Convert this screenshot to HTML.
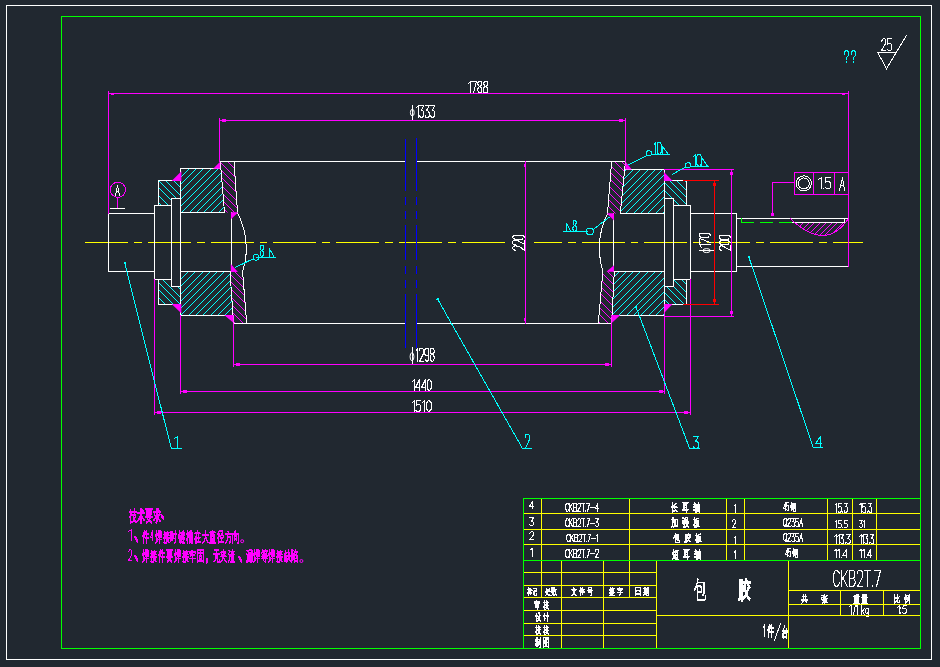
<!DOCTYPE html>
<html><head><meta charset="utf-8"><title>CAD</title>
<style>html,body{margin:0;padding:0;background:#212830;overflow:hidden}svg{display:block}
text{font-family:"Liberation Sans",sans-serif}</style></head>
<body><svg width="940" height="667" viewBox="0 0 940 667" shape-rendering="crispEdges" font-family="Liberation Sans, sans-serif">
<rect width="940" height="667" fill="#212830"/>
<defs><clipPath id="c1"><polygon points="180.5,168.5 220.9,168.5 224.5,212.5 180.5,212.5"/></clipPath><clipPath id="c2"><polygon points="180.5,271.5 230,271.5 233.5,315.5 180.5,315.5"/></clipPath><clipPath id="c3"><polygon points="624.5,169.5 664.5,169.5 664.5,213.5 620.3,213.5"/></clipPath><clipPath id="c4"><polygon points="614.3,271.5 664.5,271.5 664.5,315.5 611.7,315.5"/></clipPath><clipPath id="c5"><polygon points="158.5,180.5 180.5,180.5 180.5,198.5 171.5,198.5 171.5,205.5 158.5,205.5"/></clipPath><clipPath id="c6"><polygon points="158.5,279.5 171.5,279.5 171.5,286.5 180.5,286.5 180.5,304.5 158.5,304.5"/></clipPath><clipPath id="c7"><polygon points="664.5,180.5 686.5,180.5 686.5,205.5 673.5,205.5 673.5,198.5 664.5,198.5"/></clipPath><clipPath id="c8"><polygon points="664.5,286.5 673.5,286.5 673.5,279.5 686.5,279.5 686.5,304.5 664.5,304.5"/></clipPath><clipPath id="c9"><polygon points="220.3,161.5 234,161.5 237.5,212.5 224.5,212.5"/></clipPath><clipPath id="c10"><polygon points="230,271.5 242.6,271.5 246.7,323.5 233.5,323.5"/></clipPath><clipPath id="c11"><polygon points="611.6,161.5 625.5,161.5 620.3,213.5 607.5,213.5"/></clipPath><clipPath id="c12"><polygon points="602.8,271.5 614.3,271.5 611.7,323.5 598.3,323.5"/></clipPath><clipPath id="c13"><polygon points="790.3,222.5 790.3,218.6 793.8,221.77 797.23,224.62 800.59,227.13 803.89,229.32 807.12,231.17 810.29,232.7 813.39,233.9 816.43,234.76 819.4,235.3 822.3,235.5 825.14,235.38 827.91,234.92 830.61,234.14 833.25,233.02 835.83,231.57 838.33,229.8 840.77,227.69 843.15,225.26 845.46,222.5 847.7,219.4 847.7,222.5"/></clipPath></defs>
<path clip-path="url(#c1)" stroke="#00ffff" stroke-width="1" fill="none" d="M129.5 213.5L175.5 167.5M136.5 213.5L182.5 167.5M144.5 213.5L190.5 167.5M151.5 213.5L197.5 167.5M158.5 213.5L204.5 167.5M166.5 213.5L212.5 167.5M173.5 213.5L219.5 167.5M180.5 213.5L226.5 167.5M188.5 213.5L234.5 167.5M195.5 213.5L241.5 167.5M202.5 213.5L248.5 167.5M209.5 213.5L255.5 167.5M217.5 213.5L263.5 167.5"/>
<path clip-path="url(#c2)" stroke="#00ffff" stroke-width="1" fill="none" d="M128.5 316.5L174.5 270.5M136.5 316.5L182.5 270.5M143.5 316.5L189.5 270.5M150.5 316.5L196.5 270.5M158.5 316.5L204.5 270.5M165.5 316.5L211.5 270.5M172.5 316.5L218.5 270.5M179.5 316.5L225.5 270.5M187.5 316.5L233.5 270.5M194.5 316.5L240.5 270.5M201.5 316.5L247.5 270.5M209.5 316.5L255.5 270.5M216.5 316.5L262.5 270.5M223.5 316.5L269.5 270.5M230.5 316.5L276.5 270.5"/>
<path clip-path="url(#c3)" stroke="#00ffff" stroke-width="1" fill="none" d="M573.5 214.5L619.5 168.5M581.5 214.5L627.5 168.5M588.5 214.5L634.5 168.5M595.5 214.5L641.5 168.5M603.5 214.5L649.5 168.5M610.5 214.5L656.5 168.5M617.5 214.5L663.5 168.5M624.5 214.5L670.5 168.5M632.5 214.5L678.5 168.5M639.5 214.5L685.5 168.5M646.5 214.5L692.5 168.5M654.5 214.5L700.5 168.5M661.5 214.5L707.5 168.5"/>
<path clip-path="url(#c4)" stroke="#00ffff" stroke-width="1" fill="none" d="M559.5 316.5L605.5 270.5M566.5 316.5L612.5 270.5M574.5 316.5L620.5 270.5M581.5 316.5L627.5 270.5M588.5 316.5L634.5 270.5M595.5 316.5L641.5 270.5M603.5 316.5L649.5 270.5M610.5 316.5L656.5 270.5M617.5 316.5L663.5 270.5M625.5 316.5L671.5 270.5M632.5 316.5L678.5 270.5M639.5 316.5L685.5 270.5M647.5 316.5L693.5 270.5M654.5 316.5L700.5 270.5M661.5 316.5L707.5 270.5"/>
<path clip-path="url(#c5)" stroke="#00ffff" stroke-width="1" fill="none" d="M128.5 179.5L155.5 206.5M135.5 179.5L162.5 206.5M142.5 179.5L169.5 206.5M150.5 179.5L177.5 206.5M157.5 179.5L184.5 206.5M164.5 179.5L191.5 206.5M172.5 179.5L199.5 206.5M179.5 179.5L206.5 206.5"/>
<path clip-path="url(#c6)" stroke="#00ffff" stroke-width="1" fill="none" d="M132.5 278.5L159.5 305.5M139.5 278.5L166.5 305.5M147.5 278.5L174.5 305.5M154.5 278.5L181.5 305.5M161.5 278.5L188.5 305.5M169.5 278.5L196.5 305.5M176.5 278.5L203.5 305.5"/>
<path clip-path="url(#c7)" stroke="#00ffff" stroke-width="1" fill="none" d="M632.5 179.5L659.5 206.5M639.5 179.5L666.5 206.5M646.5 179.5L673.5 206.5M653.5 179.5L680.5 206.5M661.5 179.5L688.5 206.5M668.5 179.5L695.5 206.5M675.5 179.5L702.5 206.5M683.5 179.5L710.5 206.5"/>
<path clip-path="url(#c8)" stroke="#00ffff" stroke-width="1" fill="none" d="M636.5 278.5L663.5 305.5M643.5 278.5L670.5 305.5M650.5 278.5L677.5 305.5M658.5 278.5L685.5 305.5M665.5 278.5L692.5 305.5M672.5 278.5L699.5 305.5M680.5 278.5L707.5 305.5"/>
<path clip-path="url(#c9)" stroke="#ff00ff" stroke-width="1" fill="none" d="M167.5 160.5L220.5 213.5M175.5 160.5L228.5 213.5M182.5 160.5L235.5 213.5M189.5 160.5L242.5 213.5M196.5 160.5L249.5 213.5M204.5 160.5L257.5 213.5M211.5 160.5L264.5 213.5M218.5 160.5L271.5 213.5M226.5 160.5L279.5 213.5M233.5 160.5L286.5 213.5"/>
<path clip-path="url(#c10)" stroke="#ff00ff" stroke-width="1" fill="none" d="M175.5 270.5L229.5 324.5M182.5 270.5L236.5 324.5M190.5 270.5L244.5 324.5M197.5 270.5L251.5 324.5M204.5 270.5L258.5 324.5M212.5 270.5L266.5 324.5M219.5 270.5L273.5 324.5M226.5 270.5L280.5 324.5M233.5 270.5L287.5 324.5M241.5 270.5L295.5 324.5"/>
<path clip-path="url(#c11)" stroke="#ff00ff" stroke-width="1" fill="none" d="M547.5 160.5L601.5 214.5M554.5 160.5L608.5 214.5M562.5 160.5L616.5 214.5M569.5 160.5L623.5 214.5M576.5 160.5L630.5 214.5M583.5 160.5L637.5 214.5M591.5 160.5L645.5 214.5M598.5 160.5L652.5 214.5M605.5 160.5L659.5 214.5M613.5 160.5L667.5 214.5M620.5 160.5L674.5 214.5"/>
<path clip-path="url(#c12)" stroke="#ff00ff" stroke-width="1" fill="none" d="M540.5 270.5L594.5 324.5M547.5 270.5L601.5 324.5M555.5 270.5L609.5 324.5M562.5 270.5L616.5 324.5M569.5 270.5L623.5 324.5M577.5 270.5L631.5 324.5M584.5 270.5L638.5 324.5M591.5 270.5L645.5 324.5M599.5 270.5L653.5 324.5M606.5 270.5L660.5 324.5"/>
<path clip-path="url(#c13)" stroke="#ff00ff" stroke-width="1" fill="none" d="M772.5 236.5L791.4 217.6M778.5 236.5L797.4 217.6M783.5 236.5L802.4 217.6M789.5 236.5L808.4 217.6M795.5 236.5L814.4 217.6M800.5 236.5L819.4 217.6M806.5 236.5L825.4 217.6M812.5 236.5L831.4 217.6M818.5 236.5L837.4 217.6M823.5 236.5L842.4 217.6M829.5 236.5L848.4 217.6M835.5 236.5L854.4 217.6M840.5 236.5L859.4 217.6M846.5 236.5L865.4 217.6"/>
<path stroke="#ffff00" stroke-width="1" fill="none" stroke-dasharray="43 6 7.8 6" d="M85 242.5H505"/>
<path stroke="#ffff00" stroke-width="1" fill="none" stroke-dasharray="43 6 7.8 6" stroke-dashoffset="15.3" d="M534 242.5H863"/>
<path stroke="#00ff00" stroke-width="1" fill="none" stroke-dasharray="13 6" d="M741 222.5H792"/>
<rect x="111" y="93" width="3" height="2" fill="#ff00ff"/>
<rect x="842" y="93" width="3" height="2" fill="#ff00ff"/>
<rect x="222" y="119" width="4" height="3" fill="#ff00ff"/>
<rect x="619" y="119" width="4" height="3" fill="#ff00ff"/>
<rect x="236" y="363" width="4" height="3" fill="#ff00ff"/>
<rect x="605" y="363" width="4" height="3" fill="#ff00ff"/>
<rect x="183" y="390" width="4" height="3" fill="#ff00ff"/>
<rect x="659" y="390" width="4" height="3" fill="#ff00ff"/>
<rect x="157" y="411" width="4" height="3" fill="#ff00ff"/>
<rect x="684" y="411" width="4" height="3" fill="#ff00ff"/>
<rect x="524" y="164" width="2" height="3" fill="#ff00ff"/>
<rect x="524" y="318" width="2" height="3" fill="#ff00ff"/>
<rect x="730" y="172" width="3" height="3" fill="#ff00ff"/>
<rect x="730" y="311" width="3" height="3" fill="#ff00ff"/>
<rect x="713" y="183" width="3" height="3" fill="#ff0000"/>
<rect x="713" y="299" width="3" height="3" fill="#ff0000"/>
<circle cx="117.9" cy="189.8" r="7.6" stroke="#ff00ff" stroke-width="1" fill="none"/>
<rect x="771" y="213" width="3" height="3" fill="#ff00ff"/>
<circle cx="803.8" cy="183.4" r="7.6" stroke="#ffffff" stroke-width="1" fill="none"/>
<circle cx="803.8" cy="183.4" r="5.5" stroke="#ffffff" stroke-width="1" fill="none"/>
<rect x="124" y="262" width="2" height="2" fill="#00ffff"/>
<rect x="437" y="298" width="2" height="2" fill="#00ffff"/>
<rect x="635" y="306" width="2" height="2" fill="#00ffff"/>
<rect x="748" y="256" width="2" height="2" fill="#00ffff"/>
<rect x="436" y="299" width="1" height="1" fill="#00ffff"/>
<circle cx="256" cy="257.3" r="2.9" stroke="#00ffff" stroke-width="1" fill="none"/>
<circle cx="589.8" cy="231.5" r="3.4" stroke="#00ffff" stroke-width="1" fill="none"/>
<circle cx="648.9" cy="153.3" r="2.6" stroke="#00ffff" stroke-width="1" fill="none"/>
<circle cx="688.1" cy="165.3" r="2.6" stroke="#00ffff" stroke-width="1" fill="none"/>
<path stroke="#ffffff" stroke-width="1" fill="none" stroke-linecap="square" stroke-linejoin="miter" d="M468.5 83.5L470.5 81.5L470.5 92.5M471.5 81.5L476.5 81.5L473.5 92.5M479.5 86.5L478.5 85.5L477.5 83.5L478.5 81.5L479.5 81.5L481.5 81.5L481.5 83.5L481.5 85.5L479.5 86.5L478.5 87.5L477.5 89.5L478.5 92.5L479.5 92.5L481.5 92.5L481.5 89.5L481.5 87.5L479.5 86.5M485.5 86.5L484.5 85.5L483.5 83.5L484.5 81.5L485.5 81.5L487.5 81.5L487.5 83.5L487.5 85.5L485.5 86.5L483.5 87.5L483.5 89.5L483.5 92.5L485.5 92.5L487.5 92.5L487.5 89.5L487.5 87.5L485.5 86.5"/>
<path stroke="#ffffff" stroke-width="1" fill="none" stroke-linecap="square" stroke-linejoin="miter" d="M416.5 107.5L418.5 105.5L418.5 117.5M419.5 105.5L423.5 105.5L421.5 110.5L422.5 110.5L423.5 111.5L423.5 113.5L423.5 115.5L422.5 117.5L420.5 117.5L419.5 115.5M425.5 105.5L429.5 105.5L426.5 110.5L427.5 110.5L428.5 111.5L429.5 113.5L429.5 115.5L428.5 117.5L425.5 117.5L425.5 115.5M430.5 105.5L434.5 105.5L432.5 110.5L433.5 110.5L434.5 111.5L434.5 113.5L434.5 115.5L433.5 117.5L431.5 117.5L430.5 115.5"/>
<ellipse shape-rendering="geometricPrecision" cx="412.3" cy="112.6" rx="1.9" ry="3.3" stroke="#ffffff" stroke-width="1" fill="none"/>
<path stroke="#ffffff" stroke-width="1" fill="none" stroke-linecap="square" stroke-linejoin="miter" d="M416.5 350.5L417.5 348.5L417.5 361.5M419.5 350.5L419.5 348.5L420.5 348.5L422.5 348.5L423.5 349.5L423.5 351.5L423.5 353.5L422.5 355.5L419.5 361.5L423.5 361.5M428.5 353.5L428.5 355.5L426.5 355.5L425.5 355.5L424.5 353.5L424.5 350.5L425.5 348.5L426.5 348.5L428.5 348.5L428.5 350.5L428.5 356.5L428.5 359.5L427.5 361.5L426.5 361.5L425.5 359.5M432.5 353.5L430.5 353.5L430.5 351.5L430.5 348.5L432.5 348.5L433.5 348.5L434.5 351.5L433.5 353.5L432.5 353.5L430.5 355.5L430.5 357.5L430.5 360.5L432.5 361.5L433.5 360.5L434.5 357.5L433.5 355.5L432.5 353.5"/>
<ellipse shape-rendering="geometricPrecision" cx="412" cy="356.7" rx="1.9" ry="4" stroke="#ffffff" stroke-width="1" fill="none"/>
<path stroke="#ffffff" stroke-width="1" fill="none" stroke-linecap="square" stroke-linejoin="miter" d="M412.5 381.5L414.5 379.5L414.5 390.5M419.5 390.5L419.5 379.5L415.5 387.5L419.5 387.5M425.5 390.5L425.5 379.5L421.5 387.5L425.5 387.5M429.5 379.5L430.5 380.5L431.5 382.5L431.5 387.5L430.5 389.5L429.5 390.5L427.5 389.5L427.5 387.5L427.5 382.5L427.5 380.5L429.5 379.5"/>
<path stroke="#ffffff" stroke-width="1" fill="none" stroke-linecap="square" stroke-linejoin="miter" d="M412.5 402.5L414.5 400.5L414.5 411.5M420.5 400.5L416.5 400.5L416.5 405.5L417.5 404.5L419.5 404.5L420.5 405.5L420.5 407.5L420.5 409.5L419.5 411.5L417.5 411.5L415.5 410.5M422.5 402.5L424.5 400.5L424.5 411.5M428.5 400.5L430.5 401.5L431.5 403.5L431.5 408.5L430.5 410.5L428.5 411.5L427.5 410.5L426.5 408.5L426.5 403.5L427.5 401.5L428.5 400.5"/>
<path stroke="#ffffff" stroke-width="1" fill="none" stroke-linecap="square" stroke-linejoin="miter" d="M515.5 250.5L513.5 249.5L512.5 248.5L512.5 247.5L513.5 246.5L515.5 245.5L517.5 246.5L519.5 246.5L524.5 250.5L524.5 245.5M515.5 244.5L513.5 244.5L512.5 243.5L512.5 241.5L513.5 240.5L515.5 240.5L517.5 240.5L519.5 241.5L524.5 244.5L524.5 240.5M512.5 237.5L513.5 235.5L515.5 235.5L521.5 235.5L523.5 235.5L524.5 237.5L523.5 238.5L521.5 239.5L515.5 239.5L513.5 238.5L512.5 237.5"/>
<path stroke="#ffffff" stroke-width="1" fill="none" stroke-linecap="square" stroke-linejoin="miter" d="M701.5 247.5L699.5 244.5L710.5 244.5M699.5 243.5L699.5 238.5L710.5 242.5M699.5 235.5L699.5 233.5L701.5 233.5L707.5 233.5L709.5 233.5L710.5 235.5L709.5 236.5L707.5 237.5L701.5 237.5L699.5 236.5L699.5 235.5"/>
<ellipse shape-rendering="geometricPrecision" cx="706.6" cy="250.6" rx="3.7" ry="2" stroke="#ffffff" stroke-width="1" fill="none"/>
<path stroke="#ffffff" stroke-width="1" fill="none" stroke-linecap="square" stroke-linejoin="miter" d="M721.5 250.5L719.5 249.5L719.5 248.5L719.5 247.5L719.5 246.5L721.5 245.5L723.5 246.5L725.5 247.5L730.5 250.5L730.5 245.5M719.5 242.5L719.5 241.5L721.5 240.5L727.5 240.5L729.5 241.5L730.5 242.5L729.5 243.5L727.5 244.5L721.5 244.5L719.5 243.5L719.5 242.5M719.5 237.5L719.5 235.5L721.5 235.5L727.5 235.5L729.5 235.5L730.5 237.5L729.5 238.5L727.5 239.5L721.5 239.5L719.5 238.5L719.5 237.5"/>
<path stroke="#ffffff" stroke-width="1" fill="none" stroke-linecap="square" stroke-linejoin="miter" d="M115.5 195.5L117.5 185.5L119.5 195.5M116.5 191.5L118.5 191.5"/>
<path stroke="#ffffff" stroke-width="1" fill="none" stroke-linecap="square" stroke-linejoin="miter" d="M818.5 179.5L821.5 177.5L821.5 188.5M823.5 188.5L823.5 188.51M830.5 177.5L825.5 177.5L825.5 182.5L826.5 181.5L828.5 181.5L830.5 182.5L830.5 184.5L830.5 187.5L829.5 188.5L826.5 188.5L825.5 187.5"/>
<path stroke="#ffffff" stroke-width="1" fill="none" stroke-linecap="square" stroke-linejoin="miter" d="M839.5 190.5L842.5 177.5L844.5 190.5M840.5 185.5L843.5 185.5"/>
<path stroke="#00ffff" stroke-width="1" fill="none" stroke-linecap="square" stroke-linejoin="miter" d="M261.5 250.5L260.5 249.5L260.5 247.5L260.5 245.5L261.5 245.5L263.5 245.5L263.5 247.5L263.5 249.5L261.5 250.5L260.5 251.5L260.5 253.5L260.5 255.5L261.5 256.5L263.5 255.5L263.5 253.5L263.5 251.5L261.5 250.5"/>
<path stroke="#00ffff" stroke-width="1" fill="none" stroke-linecap="square" stroke-linejoin="miter" d="M574.5 225.5L573.5 224.5L573.5 222.5L573.5 220.5L574.5 220.5L575.5 220.5L576.5 222.5L575.5 224.5L574.5 225.5L573.5 226.5L572.5 228.5L573.5 230.5L574.5 231.5L576.5 230.5L576.5 228.5L576.5 226.5L574.5 225.5"/>
<path stroke="#00ffff" stroke-width="1" fill="none" stroke-linecap="square" stroke-linejoin="miter" d="M654.5 144.5L655.5 142.5L655.5 154.5M659.5 142.5L660.5 142.5L661.5 145.5L661.5 151.5L660.5 153.5L659.5 154.5L657.5 153.5L657.5 151.5L657.5 145.5L657.5 142.5L659.5 142.5"/>
<path stroke="#00ffff" stroke-width="1" fill="none" stroke-linecap="square" stroke-linejoin="miter" d="M693.5 156.5L695.5 154.5L695.5 166.5M699.5 154.5L700.5 154.5L701.5 157.5L701.5 163.5L700.5 165.5L699.5 166.5L697.5 165.5L696.5 163.5L696.5 157.5L697.5 154.5L699.5 154.5"/>
<path stroke="#00ffff" stroke-width="1" fill="none" stroke-linecap="square" stroke-linejoin="miter" d="M174.5 438.5L177.5 436.5L177.5 448.5"/>
<path stroke="#00ffff" stroke-width="1" fill="none" stroke-linecap="square" stroke-linejoin="miter" d="M525.5 437.5L525.5 434.5L526.5 434.5L528.5 434.5L529.5 435.5L529.5 437.5L529.5 439.5L528.5 441.5L525.5 448.5L529.5 448.5"/>
<path stroke="#00ffff" stroke-width="1" fill="none" stroke-linecap="square" stroke-linejoin="miter" d="M693.5 436.5L698.5 436.5L695.5 441.5L696.5 441.5L698.5 442.5L698.5 444.5L698.5 446.5L697.5 448.5L694.5 448.5L693.5 446.5"/>
<path stroke="#00ffff" stroke-width="1" fill="none" stroke-linecap="square" stroke-linejoin="miter" d="M820.5 447.5L820.5 436.5L815.5 443.5L821.5 443.5"/>
<path stroke="#00ffff" stroke-width="1" fill="none" stroke-linecap="square" stroke-linejoin="miter" d="M844.5 54.5L844.5 52.5L845.5 50.5L847.5 50.5L848.5 52.5L848.5 55.5L846.5 57.5L846.5 59.5M846.5 61.5L846.5 62.5M851.5 54.5L851.5 52.5L852.5 50.5L854.5 50.5L855.5 52.5L855.5 55.5L853.5 57.5L853.5 59.5M853.5 61.5L853.5 62.5"/>
<path stroke="#ffffff" stroke-width="1" fill="none" stroke-linecap="square" stroke-linejoin="miter" d="M881.5 41.5L882.5 39.5L883.5 38.5L884.5 38.5L885.5 39.5L885.5 41.5L885.5 43.5L884.5 45.5L881.5 50.5L885.5 50.5M891.5 38.5L887.5 38.5L887.5 44.5L888.5 43.5L890.5 43.5L891.5 44.5L891.5 46.5L891.5 49.5L890.5 50.5L888.5 50.5L887.5 49.5"/>
<path stroke="#ffffff" stroke-width="1" fill="none" stroke-linecap="square" stroke-linejoin="miter" d="M532.5 508.5L532.5 501.5L529.5 506.5L533.5 506.5"/>
<path stroke="#ffffff" stroke-width="1" fill="none" stroke-linecap="square" stroke-linejoin="miter" d="M529.5 517.5L533.5 517.5L531.5 521.5L532.5 521.5L533.5 522.5L533.5 523.5L533.5 524.5L532.5 525.5L530.5 525.5L529.5 524.5"/>
<path stroke="#ffffff" stroke-width="1" fill="none" stroke-linecap="square" stroke-linejoin="miter" d="M529.5 533.5L530.5 532.5L531.5 531.5L532.5 531.5L533.5 532.5L533.5 533.5L533.5 534.5L532.5 536.5L529.5 539.5L533.5 539.5"/>
<path stroke="#ffffff" stroke-width="1" fill="none" stroke-linecap="square" stroke-linejoin="miter" d="M530.5 549.5L532.5 548.5L532.5 556.5"/>
<path stroke="#ffffff" stroke-width="1" fill="none" stroke-linecap="square" stroke-linejoin="miter" d="M568.5 504.5L568.5 503.5L567.5 503.5L566.5 503.5L566.5 503.5L565.5 505.5L565.5 508.5L566.5 510.5L566.5 511.5L567.5 511.5L568.5 510.5L568.5 509.5M569.5 503.5L569.5 511.5M572.5 503.5L569.5 507.5M570.5 506.5L572.5 511.5M573.5 503.5L573.5 511.5L576.5 511.5L576.5 510.5L576.5 509.5L576.5 507.5L576.5 507.5L573.5 507.5M573.5 503.5L575.5 503.5L576.5 503.5L576.5 505.5L576.5 506.5L576.5 507.5M577.5 504.5L578.5 503.5L578.5 503.5L579.5 503.5L580.5 503.5L580.5 505.5L580.5 506.5L579.5 507.5L577.5 511.5L580.5 511.5M581.5 503.5L584.5 503.5M583.5 503.5L583.5 511.5M585.5 510.5L585.5 511.5M586.5 503.5L589.5 503.5L587.5 511.5M590.5 507.5L594.5 507.5M597.5 511.5L597.5 503.5L595.5 508.5L598.5 508.5"/>
<path stroke="#ffffff" stroke-width="1" fill="none" stroke-linecap="square" stroke-linejoin="miter" d="M568.5 520.5L568.5 519.5L567.5 518.5L566.5 518.5L566.5 519.5L565.5 521.5L565.5 524.5L566.5 526.5L566.5 526.5L567.5 526.5L568.5 526.5L568.5 525.5M569.5 518.5L569.5 526.5M572.5 518.5L569.5 523.5M570.5 522.5L572.5 526.5M573.5 518.5L573.5 526.5L576.5 526.5L576.5 526.5L576.5 524.5L576.5 523.5L576.5 522.5L573.5 522.5M573.5 518.5L575.5 518.5L576.5 519.5L576.5 520.5L576.5 522.5L576.5 522.5M577.5 520.5L578.5 519.5L578.5 518.5L579.5 518.5L580.5 519.5L580.5 520.5L580.5 521.5L580.5 523.5L577.5 526.5L580.5 526.5M581.5 518.5L584.5 518.5M583.5 518.5L583.5 526.5M585.5 526.5L585.5 526.51M587.5 518.5L589.5 518.5L587.5 526.5M590.5 523.5L594.5 523.5M595.5 518.5L598.5 518.5L596.5 522.5L597.5 522.5L598.5 523.5L598.5 524.5L598.5 525.5L597.5 526.5L596.5 526.5L595.5 525.5"/>
<path stroke="#ffffff" stroke-width="1" fill="none" stroke-linecap="square" stroke-linejoin="miter" d="M569.5 535.5L569.5 534.5L568.5 534.5L567.5 534.5L567.5 534.5L566.5 536.5L566.5 539.5L567.5 540.5L567.5 541.5L568.5 541.5L569.5 541.5L569.5 540.5M570.5 534.5L570.5 541.5M573.5 534.5L570.5 538.5M571.5 537.5L573.5 541.5M574.5 534.5L574.5 541.5L577.5 541.5L577.5 540.5L577.5 539.5L577.5 538.5L577.5 537.5L574.5 537.5M574.5 534.5L577.5 534.5L577.5 534.5L577.5 535.5L577.5 537.5L577.5 537.5M578.5 535.5L579.5 534.5L579.5 534.5L580.5 534.5L581.5 534.5L581.5 535.5L581.5 537.5L581.5 538.5L578.5 541.5L581.5 541.5M582.5 534.5L585.5 534.5M584.5 534.5L584.5 541.5M586.5 541.5L586.5 541.51M588.5 534.5L590.5 534.5L588.5 541.5M591.5 538.5L595.5 538.5M596.5 535.5L597.5 534.5L597.5 541.5"/>
<path stroke="#ffffff" stroke-width="1" fill="none" stroke-linecap="square" stroke-linejoin="miter" d="M568.5 550.5L568.5 549.5L567.5 549.5L566.5 549.5L566.5 549.5L565.5 551.5L565.5 555.5L566.5 557.5L566.5 557.5L567.5 557.5L568.5 557.5L568.5 556.5M569.5 549.5L569.5 557.5M572.5 549.5L569.5 554.5M570.5 552.5L572.5 557.5M573.5 549.5L573.5 557.5L576.5 557.5L576.5 557.5L576.5 555.5L576.5 554.5L576.5 553.5L573.5 553.5M573.5 549.5L575.5 549.5L576.5 549.5L576.5 551.5L576.5 552.5L576.5 553.5M577.5 551.5L578.5 549.5L578.5 549.5L579.5 549.5L580.5 549.5L580.5 551.5L580.5 552.5L580.5 553.5L577.5 557.5L580.5 557.5M581.5 549.5L584.5 549.5M583.5 549.5L583.5 557.5M585.5 557.5L585.5 557.51M587.5 549.5L589.5 549.5L587.5 557.5M590.5 553.5L594.5 553.5M595.5 551.5L595.5 549.5L596.5 549.5L597.5 549.5L598.5 549.5L598.5 551.5L598.5 552.5L597.5 553.5L595.5 557.5L598.5 557.5"/>
<path stroke="#ffffff" stroke-width="1" fill="none" stroke-linecap="square" stroke-linejoin="miter" d="M734.5 505.5L735.5 504.5L735.5 512.5"/>
<path stroke="#ffffff" stroke-width="1" fill="none" stroke-linecap="square" stroke-linejoin="miter" d="M732.5 521.5L732.5 520.5L733.5 519.5L734.5 519.5L735.5 520.5L735.5 521.5L735.5 522.5L734.5 524.5L732.5 527.5L735.5 527.5"/>
<path stroke="#ffffff" stroke-width="1" fill="none" stroke-linecap="square" stroke-linejoin="miter" d="M734.5 537.5L735.5 536.5L735.5 543.5"/>
<path stroke="#ffffff" stroke-width="1" fill="none" stroke-linecap="square" stroke-linejoin="miter" d="M734.5 552.5L735.5 550.5L735.5 558.5"/>
<path stroke="#ffffff" stroke-width="1" fill="none" stroke-linecap="square" stroke-linejoin="miter" d="M785.5 510.5L785.5 502.5L783.5 508.5L785.5 508.5M788.5 502.5L786.5 502.5L786.5 506.5L787.5 505.5L788.5 505.5L788.5 506.5L788.5 507.5L788.5 509.5L788.5 510.5L787.5 510.5L786.5 509.5"/>
<path stroke="#ffffff" stroke-width="1" fill="none" stroke-linecap="square" stroke-linejoin="miter" d="M785.5 518.5L786.5 518.5L786.5 520.5L786.5 524.5L786.5 526.5L785.5 526.5L784.5 526.5L783.5 524.5L783.5 520.5L784.5 518.5L785.5 518.5M785.5 524.5L786.5 526.5M787.5 520.5L788.5 518.5L788.5 518.5L789.5 518.5L790.5 518.5L790.5 520.5L790.5 521.5L789.5 522.5L787.5 526.5L790.5 526.5M791.5 518.5L794.5 518.5L792.5 521.5L793.5 521.5L794.5 522.5L794.5 524.5L794.5 525.5L794.5 526.5L792.5 526.5L791.5 525.5M798.5 518.5L795.5 518.5L795.5 522.5L796.5 521.5L797.5 521.5L798.5 522.5L798.5 523.5L798.5 525.5L798.5 526.5L796.5 526.5L795.5 525.5M799.5 526.5L801.5 518.5L802.5 526.5M800.5 523.5L802.5 523.5"/>
<path stroke="#ffffff" stroke-width="1" fill="none" stroke-linecap="square" stroke-linejoin="miter" d="M785.5 533.5L786.5 533.5L786.5 535.5L786.5 539.5L786.5 540.5L785.5 541.5L784.5 540.5L783.5 539.5L783.5 535.5L784.5 533.5L785.5 533.5M785.5 539.5L786.5 541.5M787.5 534.5L788.5 533.5L788.5 533.5L789.5 533.5L790.5 533.5L790.5 535.5L790.5 536.5L789.5 537.5L787.5 541.5L790.5 541.5M791.5 533.5L794.5 533.5L792.5 536.5L793.5 536.5L794.5 537.5L794.5 538.5L794.5 540.5L794.5 541.5L792.5 541.5L791.5 540.5M798.5 533.5L795.5 533.5L795.5 536.5L796.5 536.5L797.5 536.5L798.5 537.5L798.5 538.5L798.5 540.5L798.5 541.5L796.5 541.5L795.5 540.5M799.5 541.5L801.5 533.5L802.5 541.5M800.5 538.5L802.5 538.5"/>
<path stroke="#ffffff" stroke-width="1" fill="none" stroke-linecap="square" stroke-linejoin="miter" d="M787.5 556.5L787.5 548.5L785.5 554.5L787.5 554.5M790.5 548.5L788.5 548.5L788.5 552.5L789.5 551.5L790.5 551.5L790.5 552.5L790.5 553.5L790.5 555.5L790.5 556.5L789.5 556.5L788.5 555.5"/>
<path stroke="#ffffff" stroke-width="1" fill="none" stroke-linecap="square" stroke-linejoin="miter" d="M835.5 504.5L836.5 503.5L836.5 512.5M841.5 503.5L838.5 503.5L838.5 507.5L839.5 506.5L840.5 506.5L841.5 507.5L841.5 508.5L841.5 510.5L840.5 512.5L838.5 512.5L838.5 511.5M842.5 511.5L842.5 512.5M844.5 503.5L847.5 503.5L845.5 506.5L846.5 506.5L847.5 507.5L847.5 509.5L847.5 510.5L846.5 512.5L844.5 512.5L844.5 510.5"/>
<path stroke="#ffffff" stroke-width="1" fill="none" stroke-linecap="square" stroke-linejoin="miter" d="M859.5 504.5L861.5 503.5L861.5 512.5M865.5 503.5L862.5 503.5L862.5 507.5L863.5 506.5L864.5 506.5L865.5 507.5L865.5 508.5L865.5 510.5L865.5 512.5L863.5 512.5L862.5 511.5M867.5 511.5L867.5 512.5M868.5 503.5L871.5 503.5L869.5 506.5L870.5 506.5L871.5 507.5L871.5 509.5L871.5 510.5L871.5 512.5L869.5 512.5L868.5 510.5"/>
<path stroke="#ffffff" stroke-width="1" fill="none" stroke-linecap="square" stroke-linejoin="miter" d="M835.5 521.5L836.5 520.5L836.5 527.5M841.5 520.5L838.5 520.5L838.5 523.5L839.5 523.5L840.5 523.5L841.5 524.5L841.5 525.5L841.5 526.5L840.5 527.5L838.5 527.5L838.5 527.5M842.5 527.5L842.5 527.51M847.5 520.5L844.5 520.5L844.5 523.5L845.5 523.5L846.5 523.5L847.5 524.5L847.5 525.5L847.5 526.5L846.5 527.5L844.5 527.5L844.5 527.5"/>
<path stroke="#ffffff" stroke-width="1" fill="none" stroke-linecap="square" stroke-linejoin="miter" d="M859.5 520.5L862.5 520.5L860.5 523.5L861.5 523.5L862.5 524.5L862.5 525.5L862.5 526.5L861.5 527.5L860.5 527.5L859.5 526.5M863.5 521.5L864.5 520.5L864.5 527.5"/>
<path stroke="#ffffff" stroke-width="1" fill="none" stroke-linecap="square" stroke-linejoin="miter" d="M834.5 536.5L836.5 534.5L836.5 543.5M837.5 536.5L839.5 534.5L839.5 543.5M840.5 534.5L843.5 534.5L841.5 538.5L842.5 538.5L843.5 539.5L843.5 540.5L843.5 541.5L843.5 543.5L841.5 543.5L840.5 542.5M845.5 542.5L845.5 543.5M846.5 534.5L850.5 534.5L847.5 538.5L848.5 538.5L849.5 539.5L850.5 540.5L850.5 541.5L849.5 543.5L847.5 543.5L846.5 542.5"/>
<path stroke="#ffffff" stroke-width="1" fill="none" stroke-linecap="square" stroke-linejoin="miter" d="M859.5 536.5L861.5 534.5L861.5 543.5M862.5 536.5L863.5 534.5L863.5 543.5M864.5 534.5L867.5 534.5L866.5 538.5L867.5 538.5L867.5 539.5L867.5 540.5L867.5 541.5L867.5 543.5L865.5 543.5L864.5 542.5M869.5 542.5L869.5 543.5M870.5 534.5L873.5 534.5L871.5 538.5L872.5 538.5L873.5 539.5L873.5 540.5L873.5 541.5L873.5 543.5L871.5 543.5L870.5 542.5"/>
<path stroke="#ffffff" stroke-width="1" fill="none" stroke-linecap="square" stroke-linejoin="miter" d="M834.5 550.5L836.5 549.5L836.5 557.5M837.5 550.5L839.5 549.5L839.5 557.5M841.5 557.5L841.5 557.51M846.5 557.5L846.5 549.5L842.5 555.5L846.5 555.5"/>
<path stroke="#ffffff" stroke-width="1" fill="none" stroke-linecap="square" stroke-linejoin="miter" d="M859.5 550.5L861.5 549.5L861.5 557.5M862.5 550.5L864.5 549.5L864.5 557.5M866.5 557.5L866.5 557.51M870.5 557.5L870.5 549.5L867.5 555.5L871.5 555.5"/>
<path stroke="#ffffff" stroke-width="1" fill="none" stroke-linecap="square" stroke-linejoin="miter" d="M839.5 573.5L838.5 571.5L836.5 570.5L835.5 570.5L834.5 571.5L833.5 575.5L833.5 581.5L834.5 584.5L835.5 586.5L836.5 586.5L838.5 585.5L839.5 582.5M841.5 570.5L841.5 586.5M847.5 570.5L841.5 580.5M842.5 577.5L847.5 586.5M849.5 570.5L849.5 586.5L853.5 586.5L854.5 584.5L855.5 582.5L854.5 579.5L853.5 578.5L849.5 578.5M849.5 570.5L853.5 570.5L854.5 571.5L854.5 574.5L854.5 576.5L853.5 578.5M857.5 573.5L857.5 571.5L858.5 570.5L860.5 570.5L862.5 571.5L862.5 574.5L862.5 576.5L861.5 579.5L857.5 586.5L862.5 586.5M864.5 570.5L870.5 570.5M867.5 570.5L867.5 586.5M872.5 585.5L872.5 586.5M874.5 570.5L880.5 570.5L876.5 586.5"/>
<path stroke="#ffffff" stroke-width="1" fill="none" stroke-linecap="square" stroke-linejoin="miter" d="M849.5 606.5L851.5 604.5L851.5 614.5M852.5 604.5L855.5 604.5L853.5 614.5M856.5 606.5L857.5 604.5L857.5 614.5M861.5 604.5L861.5 614.5M864.5 608.5L861.5 612.5M862.5 611.5L864.5 614.5M868.5 609.5L868.5 608.5L866.5 608.5L865.5 609.5L865.5 611.5L865.5 612.5L866.5 613.5L868.5 612.5L868.5 611.5M868.5 608.5L868.5 615.5L868.5 616.5L866.5 616.5L865.5 615.5"/>
<path stroke="#ffffff" stroke-width="1" fill="none" stroke-linecap="square" stroke-linejoin="miter" d="M897.5 607.5L899.5 605.5L899.5 613.5M900.5 607.5L900.5 608.5M900.5 612.5L900.5 613.5M906.5 605.5L903.5 605.5L902.5 608.5L903.5 608.5L905.5 608.5L906.5 609.5L906.5 610.5L906.5 611.5L905.5 613.5L903.5 613.5L902.5 612.5"/>
<path stroke="#ffffff" stroke-width="1" fill="none" stroke-linecap="square" stroke-linejoin="miter" d="M763.5 627.5L764.5 624.5L764.5 636.5"/>
<path stroke="#ffffff" stroke-width="1" fill="none" stroke-linecap="square" stroke-linejoin="miter" d="M780.5 623.5L774.5 640.5"/>
<path fill="#ff00ff" d="M134 508h1v1h-1zM130 509h1v1h-1zM134 509h1v1h-1zM130 510h1v1h-1zM134 510h1v1h-1zM129 511h8v1h-8zM129 512h8v1h-8zM130 513h2v1h-2zM134 513h1v1h-1zM130 514h6v1h-6zM130 515h6v1h-6zM129 516h2v1h-2zM133 516h1v1h-1zM135 516h1v1h-1zM129 517h2v1h-2zM133 517h3v1h-3zM130 518h1v1h-1zM133 518h2v1h-2zM130 519h1v1h-1zM133 519h2v1h-2zM130 520h1v1h-1zM133 520h3v1h-3zM130 521h7v1h-7zM130 522h3v1h-3zM135 522h2v1h-2zM130 523h1v1h-1zM140 508h2v1h-2zM140 509h3v1h-3zM140 510h4v1h-4zM140 511h4v1h-4zM137 512h8v1h-8zM137 513h8v1h-8zM140 514h2v1h-2zM140 515h2v1h-2zM139 516h4v1h-4zM139 517h4v1h-4zM138 518h6v1h-6zM138 519h4v1h-4zM143 519h2v1h-2zM137 520h2v1h-2zM140 520h2v1h-2zM143 520h2v1h-2zM137 521h1v1h-1zM140 521h2v1h-2zM140 522h2v1h-2zM140 523h2v1h-2zM145 508h8v1h-8zM145 509h8v1h-8zM146 510h6v1h-6zM146 511h6v1h-6zM146 512h6v1h-6zM146 513h6v1h-6zM146 514h6v1h-6zM146 515h5v1h-5zM145 516h8v1h-8zM145 517h8v1h-8zM147 518h1v1h-1zM149 518h2v1h-2zM147 519h3v1h-3zM148 520h3v1h-3zM146 521h6v1h-6zM146 522h2v1h-2zM150 522h2v1h-2zM146 523h1v1h-1zM151 523h1v1h-1zM156 508h3v1h-3zM156 509h3v1h-3zM156 510h4v1h-4zM153 511h8v1h-8zM153 512h8v1h-8zM154 513h1v1h-1zM156 513h2v1h-2zM159 513h1v1h-1zM154 514h1v1h-1zM156 514h4v1h-4zM154 515h6v1h-6zM155 516h4v1h-4zM155 517h4v1h-4zM154 518h5v1h-5zM153 519h2v1h-2zM156 519h4v1h-4zM153 520h2v1h-2zM156 520h2v1h-2zM159 520h2v1h-2zM156 521h2v1h-2zM159 521h2v1h-2zM155 522h2v1h-2zM156 523h1v1h-1z"/>
<path fill="#ff00ff" d="M160 514h2v1h-2zM161 515h2v1h-2zM161 516h3v1h-3zM161 517h3v1h-3zM162 518h2v1h-2zM163 519h1v1h-1z"/>
<path stroke="#ff00ff" stroke-width="1" fill="none" stroke-linecap="square" stroke-linejoin="miter" d="M128.5 531.5L131.5 529.5L131.5 540.5"/>
<path fill="#ff00ff" d="M134 536h2v1h-2zM134 537h3v1h-3zM135 538h2v1h-2zM135 539h3v1h-3zM136 540h2v1h-2zM136 541h2v1h-2zM137 542h1v1h-1z"/>
<path fill="#ff00ff" d="M144 530h1v1h-1zM146 530h1v1h-1zM144 531h3v1h-3zM143 532h4v1h-4zM143 533h6v1h-6zM143 534h6v1h-6zM142 535h3v1h-3zM146 535h1v1h-1zM142 536h3v1h-3zM146 536h1v1h-1zM143 537h6v1h-6zM143 538h1v1h-1zM145 538h4v1h-4zM143 539h1v1h-1zM146 539h1v1h-1zM143 540h1v1h-1zM146 540h1v1h-1zM143 541h1v1h-1zM146 541h1v1h-1zM143 542h1v1h-1zM146 542h1v1h-1zM143 543h1v1h-1zM146 543h1v1h-1z"/>
<path stroke="#ff00ff" stroke-width="1" fill="none" stroke-linecap="square" stroke-linejoin="miter" d="M152.5 540.5L152.5 530.5L150.5 537.5L152.5 537.5"/>
<path fill="#ff00ff" d="M156 530h1v1h-1zM158 530h3v1h-3zM156 531h1v1h-1zM158 531h4v1h-4zM156 532h1v1h-1zM158 532h4v1h-4zM156 533h6v1h-6zM155 534h7v1h-7zM155 535h7v1h-7zM155 536h2v1h-2zM158 536h4v1h-4zM156 537h1v1h-1zM158 537h4v1h-4zM156 538h2v1h-2zM159 538h1v1h-1zM156 539h6v1h-6zM156 540h2v1h-2zM159 540h1v1h-1zM156 541h2v1h-2zM159 541h1v1h-1zM155 542h2v1h-2zM159 542h1v1h-1zM155 543h1v1h-1zM159 543h1v1h-1zM164 531h1v1h-1zM167 531h1v1h-1zM164 532h6v1h-6zM164 533h5v1h-5zM163 534h6v1h-6zM164 535h6v1h-6zM164 536h4v1h-4zM163 537h7v1h-7zM163 538h7v1h-7zM164 539h1v1h-1zM166 539h3v1h-3zM164 540h1v1h-1zM166 540h3v1h-3zM164 541h1v1h-1zM166 541h3v1h-3zM163 542h4v1h-4zM168 542h2v1h-2zM164 543h3v1h-3zM175 530h1v1h-1zM170 531h3v1h-3zM175 531h1v1h-1zM170 532h3v1h-3zM175 532h1v1h-1zM170 533h7v1h-7zM170 534h7v1h-7zM170 535h4v1h-4zM175 535h1v1h-1zM170 536h4v1h-4zM175 536h1v1h-1zM170 537h4v1h-4zM175 537h1v1h-1zM170 538h6v1h-6zM170 539h3v1h-3zM175 539h1v1h-1zM170 540h3v1h-3zM175 540h1v1h-1zM170 541h1v1h-1zM175 541h1v1h-1zM174 542h2v1h-2zM174 543h1v1h-1zM179 530h1v1h-1zM183 530h1v1h-1zM179 531h1v1h-1zM182 531h2v1h-2zM179 532h6v1h-6zM179 533h6v1h-6zM178 534h2v1h-2zM181 534h4v1h-4zM178 535h7v1h-7zM178 536h6v1h-6zM178 537h7v1h-7zM178 538h7v1h-7zM179 539h6v1h-6zM179 540h3v1h-3zM183 540h1v1h-1zM179 541h5v1h-5zM179 542h6v1h-6zM180 543h1v1h-1zM182 543h3v1h-3zM187 530h1v1h-1zM190 530h2v1h-2zM187 531h1v1h-1zM189 531h3v1h-3zM187 532h6v1h-6zM186 533h7v1h-7zM186 534h7v1h-7zM187 535h6v1h-6zM187 536h6v1h-6zM187 537h6v1h-6zM186 538h2v1h-2zM189 538h4v1h-4zM186 539h2v1h-2zM189 539h4v1h-4zM186 540h2v1h-2zM189 540h4v1h-4zM187 541h1v1h-1zM189 541h4v1h-4zM187 542h1v1h-1zM189 542h4v1h-4zM187 543h1v1h-1zM189 543h1v1h-1zM191 543h2v1h-2zM197 530h1v1h-1zM197 531h1v1h-1zM195 532h5v1h-5zM194 533h7v1h-7zM196 534h1v1h-1zM198 534h1v1h-1zM196 535h1v1h-1zM198 535h1v1h-1zM195 536h2v1h-2zM198 536h1v1h-1zM195 537h6v1h-6zM194 538h6v1h-6zM194 539h3v1h-3zM198 539h1v1h-1zM195 540h2v1h-2zM198 540h1v1h-1zM195 541h6v1h-6zM195 542h6v1h-6zM195 543h2v1h-2zM205 530h1v1h-1zM205 531h1v1h-1zM205 532h1v1h-1zM205 533h1v1h-1zM202 534h7v1h-7zM202 535h7v1h-7zM205 536h1v1h-1zM205 537h2v1h-2zM204 538h3v1h-3zM204 539h1v1h-1zM206 539h1v1h-1zM204 540h1v1h-1zM206 540h2v1h-2zM203 541h2v1h-2zM207 541h1v1h-1zM202 542h2v1h-2zM207 542h2v1h-2zM202 543h1v1h-1zM212 530h1v1h-1zM210 531h5v1h-5zM209 532h7v1h-7zM210 533h4v1h-4zM210 534h5v1h-5zM210 535h5v1h-5zM210 536h5v1h-5zM210 537h2v1h-2zM213 537h2v1h-2zM210 538h5v1h-5zM210 539h5v1h-5zM210 540h5v1h-5zM210 541h5v1h-5zM209 542h7v1h-7zM209 543h7v1h-7zM219 530h4v1h-4zM218 531h5v1h-5zM218 532h1v1h-1zM222 532h1v1h-1zM217 533h3v1h-3zM221 533h2v1h-2zM217 534h3v1h-3zM221 534h2v1h-2zM218 535h6v1h-6zM218 536h3v1h-3zM223 536h1v1h-1zM217 537h2v1h-2zM220 537h4v1h-4zM217 538h2v1h-2zM220 538h3v1h-3zM218 539h1v1h-1zM221 539h1v1h-1zM218 540h1v1h-1zM221 540h1v1h-1zM218 541h6v1h-6zM218 542h6v1h-6zM218 543h1v1h-1zM227 531h2v1h-2zM228 532h1v1h-1zM225 533h7v1h-7zM225 534h7v1h-7zM227 535h1v1h-1zM227 536h4v1h-4zM227 537h4v1h-4zM227 538h1v1h-1zM230 538h1v1h-1zM227 539h1v1h-1zM230 539h1v1h-1zM226 540h2v1h-2zM230 540h1v1h-1zM226 541h1v1h-1zM229 541h2v1h-2zM225 542h2v1h-2zM229 542h2v1h-2zM225 543h1v1h-1zM229 543h1v1h-1zM235 530h1v1h-1zM234 531h2v1h-2zM234 532h2v1h-2zM232 533h7v1h-7zM232 534h7v1h-7zM232 535h1v1h-1zM234 535h3v1h-3zM238 535h1v1h-1zM232 536h1v1h-1zM234 536h3v1h-3zM238 536h1v1h-1zM232 537h1v1h-1zM234 537h1v1h-1zM236 537h1v1h-1zM238 537h1v1h-1zM232 538h1v1h-1zM234 538h3v1h-3zM238 538h1v1h-1zM232 539h1v1h-1zM234 539h3v1h-3zM238 539h1v1h-1zM232 540h1v1h-1zM234 540h1v1h-1zM236 540h1v1h-1zM238 540h1v1h-1zM232 541h1v1h-1zM238 541h1v1h-1zM232 542h1v1h-1zM237 542h2v1h-2zM232 543h1v1h-1zM237 543h2v1h-2z"/>
<circle shape-rendering="geometricPrecision" cx="242.2" cy="541.2" r="1.5" stroke="#ff00ff" fill="none"/>
<path stroke="#ff00ff" stroke-width="1" fill="none" stroke-linecap="square" stroke-linejoin="miter" d="M128.5 551.5L129.5 550.5L129.5 549.5L130.5 549.5L131.5 550.5L131.5 552.5L131.5 553.5L131.5 555.5L128.5 560.5L131.5 560.5"/>
<path fill="#ff00ff" d="M134 555h2v1h-2zM134 556h3v1h-3zM135 557h2v1h-2zM135 558h3v1h-3zM136 559h2v1h-2zM136 560h2v1h-2zM137 561h1v1h-1z"/>
<path fill="#ff00ff" d="M143 549h1v1h-1zM145 549h3v1h-3zM143 550h1v1h-1zM145 550h4v1h-4zM143 551h1v1h-1zM145 551h4v1h-4zM143 552h6v1h-6zM142 553h7v1h-7zM142 554h7v1h-7zM142 555h2v1h-2zM145 555h4v1h-4zM143 556h1v1h-1zM145 556h4v1h-4zM143 557h2v1h-2zM146 557h1v1h-1zM143 558h6v1h-6zM143 559h2v1h-2zM146 559h1v1h-1zM143 560h2v1h-2zM146 560h1v1h-1zM142 561h2v1h-2zM146 561h1v1h-1zM142 562h1v1h-1zM146 562h1v1h-1zM151 550h1v1h-1zM154 550h1v1h-1zM151 551h6v1h-6zM151 552h5v1h-5zM150 553h6v1h-6zM151 554h6v1h-6zM151 555h4v1h-4zM150 556h7v1h-7zM150 557h7v1h-7zM151 558h1v1h-1zM153 558h3v1h-3zM151 559h1v1h-1zM153 559h3v1h-3zM151 560h1v1h-1zM153 560h3v1h-3zM150 561h4v1h-4zM155 561h2v1h-2zM151 562h3v1h-3zM160 549h1v1h-1zM162 549h1v1h-1zM160 550h3v1h-3zM159 551h4v1h-4zM159 552h6v1h-6zM159 553h6v1h-6zM158 554h3v1h-3zM162 554h1v1h-1zM158 555h3v1h-3zM162 555h1v1h-1zM159 556h6v1h-6zM159 557h1v1h-1zM161 557h4v1h-4zM159 558h1v1h-1zM162 558h1v1h-1zM159 559h1v1h-1zM162 559h1v1h-1zM159 560h1v1h-1zM162 560h1v1h-1zM159 561h1v1h-1zM162 561h1v1h-1zM159 562h1v1h-1zM162 562h1v1h-1zM166 549h7v1h-7zM166 550h7v1h-7zM167 551h5v1h-5zM167 552h5v1h-5zM167 553h5v1h-5zM167 554h5v1h-5zM167 555h5v1h-5zM166 556h7v1h-7zM166 557h7v1h-7zM167 558h4v1h-4zM168 559h3v1h-3zM167 560h5v1h-5zM167 561h2v1h-2zM170 561h2v1h-2zM167 562h1v1h-1zM171 562h1v1h-1zM175 549h1v1h-1zM177 549h3v1h-3zM175 550h1v1h-1zM177 550h4v1h-4zM175 551h1v1h-1zM177 551h4v1h-4zM175 552h6v1h-6zM174 553h7v1h-7zM174 554h7v1h-7zM174 555h2v1h-2zM177 555h4v1h-4zM175 556h1v1h-1zM177 556h4v1h-4zM175 557h2v1h-2zM178 557h1v1h-1zM175 558h6v1h-6zM175 559h2v1h-2zM178 559h1v1h-1zM175 560h2v1h-2zM178 560h1v1h-1zM174 561h2v1h-2zM178 561h1v1h-1zM174 562h1v1h-1zM178 562h1v1h-1zM183 550h1v1h-1zM186 550h1v1h-1zM183 551h6v1h-6zM183 552h5v1h-5zM182 553h6v1h-6zM183 554h6v1h-6zM183 555h4v1h-4zM182 556h7v1h-7zM182 557h7v1h-7zM183 558h1v1h-1zM185 558h3v1h-3zM183 559h1v1h-1zM185 559h3v1h-3zM183 560h1v1h-1zM185 560h3v1h-3zM182 561h4v1h-4zM187 561h2v1h-2zM183 562h3v1h-3zM191 550h2v1h-2zM189 551h7v1h-7zM189 552h7v1h-7zM189 553h4v1h-4zM195 553h1v1h-1zM190 554h5v1h-5zM190 555h5v1h-5zM190 556h1v1h-1zM192 556h1v1h-1zM192 557h1v1h-1zM189 558h7v1h-7zM192 559h1v1h-1zM192 560h1v1h-1zM192 561h1v1h-1zM192 562h1v1h-1zM197 549h7v1h-7zM197 550h7v1h-7zM197 551h1v1h-1zM200 551h1v1h-1zM203 551h1v1h-1zM197 552h7v1h-7zM197 553h7v1h-7zM197 554h1v1h-1zM200 554h1v1h-1zM203 554h1v1h-1zM197 555h1v1h-1zM199 555h3v1h-3zM203 555h1v1h-1zM197 556h1v1h-1zM199 556h3v1h-3zM203 556h1v1h-1zM197 557h1v1h-1zM199 557h1v1h-1zM201 557h1v1h-1zM203 557h1v1h-1zM197 558h1v1h-1zM199 558h3v1h-3zM203 558h1v1h-1zM197 559h1v1h-1zM199 559h3v1h-3zM203 559h1v1h-1zM197 560h7v1h-7zM197 561h7v1h-7zM197 562h1v1h-1zM203 562h1v1h-1z"/>
<path fill="#ff00ff" d="M206 558h2v1h-2zM206 559h2v1h-2zM206 560h2v1h-2zM206 561h2v1h-2zM206 562h2v1h-2zM206 563h1v1h-1z"/>
<path fill="#ff00ff" d="M214 549h5v1h-5zM214 550h5v1h-5zM216 551h1v1h-1zM216 552h1v1h-1zM213 553h7v1h-7zM213 554h7v1h-7zM215 555h3v1h-3zM215 556h3v1h-3zM215 557h3v1h-3zM215 558h3v1h-3zM215 559h1v1h-1zM217 559h1v1h-1zM219 559h1v1h-1zM214 560h2v1h-2zM217 560h1v1h-1zM219 560h1v1h-1zM213 561h2v1h-2zM217 561h3v1h-3zM217 562h3v1h-3zM223 549h1v1h-1zM223 550h1v1h-1zM221 551h5v1h-5zM220 552h6v1h-6zM221 553h1v1h-1zM223 553h3v1h-3zM221 554h4v1h-4zM221 555h5v1h-5zM220 556h7v1h-7zM222 557h2v1h-2zM222 558h3v1h-3zM222 559h1v1h-1zM224 559h1v1h-1zM221 560h2v1h-2zM224 560h2v1h-2zM220 561h2v1h-2zM225 561h2v1h-2zM220 562h1v1h-1zM226 562h1v1h-1zM232 549h1v1h-1zM228 550h2v1h-2zM232 550h1v1h-1zM229 551h6v1h-6zM229 552h1v1h-1zM231 552h3v1h-3zM228 553h1v1h-1zM231 553h3v1h-3zM228 554h7v1h-7zM229 555h5v1h-5zM229 556h5v1h-5zM229 557h1v1h-1zM231 557h3v1h-3zM229 558h1v1h-1zM231 558h3v1h-3zM229 559h1v1h-1zM231 559h3v1h-3zM228 560h2v1h-2zM231 560h3v1h-3zM228 561h1v1h-1zM230 561h5v1h-5zM228 562h1v1h-1zM230 562h5v1h-5z"/>
<path fill="#ff00ff" d="M238 556h2v1h-2zM238 557h3v1h-3zM239 558h2v1h-2zM239 559h3v1h-3zM240 560h2v1h-2zM240 561h2v1h-2zM241 562h1v1h-1z"/>
<path fill="#ff00ff" d="M249 549h3v1h-3zM246 550h7v1h-7zM247 551h2v1h-2zM251 551h2v1h-2zM248 552h5v1h-5zM246 553h1v1h-1zM248 553h5v1h-5zM246 554h7v1h-7zM247 555h6v1h-6zM247 556h6v1h-6zM247 557h6v1h-6zM247 558h6v1h-6zM247 559h6v1h-6zM246 560h7v1h-7zM246 561h7v1h-7zM246 562h2v1h-2zM250 562h2v1h-2zM254 549h1v1h-1zM256 549h3v1h-3zM254 550h1v1h-1zM256 550h4v1h-4zM254 551h1v1h-1zM256 551h4v1h-4zM254 552h6v1h-6zM253 553h7v1h-7zM253 554h7v1h-7zM253 555h2v1h-2zM256 555h4v1h-4zM254 556h1v1h-1zM256 556h4v1h-4zM254 557h2v1h-2zM257 557h1v1h-1zM254 558h6v1h-6zM254 559h2v1h-2zM257 559h1v1h-1zM254 560h2v1h-2zM257 560h1v1h-1zM253 561h2v1h-2zM257 561h1v1h-1zM253 562h1v1h-1zM257 562h1v1h-1zM262 549h1v1h-1zM265 549h1v1h-1zM262 550h6v1h-6zM262 551h6v1h-6zM261 552h4v1h-4zM266 552h1v1h-1zM261 553h1v1h-1zM263 553h4v1h-4zM262 554h5v1h-5zM262 555h6v1h-6zM261 556h7v1h-7zM262 557h5v1h-5zM261 558h7v1h-7zM263 559h1v1h-1zM265 559h1v1h-1zM263 560h1v1h-1zM265 560h1v1h-1zM264 561h2v1h-2zM265 562h1v1h-1zM269 549h1v1h-1zM271 549h3v1h-3zM269 550h1v1h-1zM271 550h4v1h-4zM269 551h1v1h-1zM271 551h4v1h-4zM269 552h6v1h-6zM268 553h7v1h-7zM268 554h7v1h-7zM268 555h2v1h-2zM271 555h4v1h-4zM269 556h1v1h-1zM271 556h4v1h-4zM269 557h2v1h-2zM272 557h1v1h-1zM269 558h6v1h-6zM269 559h2v1h-2zM272 559h1v1h-1zM269 560h2v1h-2zM272 560h1v1h-1zM268 561h2v1h-2zM272 561h1v1h-1zM268 562h1v1h-1zM272 562h1v1h-1zM277 550h1v1h-1zM280 550h1v1h-1zM277 551h6v1h-6zM277 552h5v1h-5zM276 553h6v1h-6zM277 554h6v1h-6zM277 555h4v1h-4zM276 556h7v1h-7zM276 557h7v1h-7zM277 558h1v1h-1zM279 558h3v1h-3zM277 559h1v1h-1zM279 559h3v1h-3zM277 560h1v1h-1zM279 560h3v1h-3zM276 561h4v1h-4zM281 561h2v1h-2zM277 562h3v1h-3zM288 549h1v1h-1zM285 550h1v1h-1zM288 550h1v1h-1zM285 551h1v1h-1zM288 551h1v1h-1zM285 552h5v1h-5zM284 553h3v1h-3zM288 553h2v1h-2zM284 554h2v1h-2zM288 554h2v1h-2zM284 555h7v1h-7zM284 556h7v1h-7zM284 557h3v1h-3zM288 557h2v1h-2zM284 558h6v1h-6zM284 559h6v1h-6zM284 560h4v1h-4zM289 560h2v1h-2zM284 561h4v1h-4zM290 561h1v1h-1zM286 562h1v1h-1zM291 549h2v1h-2zM295 549h1v1h-1zM291 550h3v1h-3zM295 550h1v1h-1zM291 551h2v1h-2zM294 551h4v1h-4zM291 552h2v1h-2zM294 552h4v1h-4zM291 553h4v1h-4zM296 553h1v1h-1zM291 554h6v1h-6zM291 555h7v1h-7zM291 556h4v1h-4zM296 556h2v1h-2zM291 557h4v1h-4zM296 557h2v1h-2zM291 558h7v1h-7zM291 559h4v1h-4zM297 559h1v1h-1zM291 560h2v1h-2zM294 560h4v1h-4zM291 561h1v1h-1zM294 561h4v1h-4zM291 562h1v1h-1zM294 562h1v1h-1zM297 562h1v1h-1z"/>
<circle shape-rendering="geometricPrecision" cx="301.4" cy="561" r="1.5" stroke="#ff00ff" fill="none"/>
<path fill="#ffffff" d="M672 502h1v1h-1zM672 503h1v1h-1zM675 503h2v1h-2zM672 504h1v1h-1zM674 504h2v1h-2zM672 505h3v1h-3zM671 506h6v1h-6zM671 507h7v1h-7zM672 508h1v1h-1zM674 508h1v1h-1zM672 509h1v1h-1zM675 509h1v1h-1zM672 510h5v1h-5zM672 511h3v1h-3zM676 511h2v1h-2zM672 512h1v1h-1zM682 502h7v1h-7zM683 503h5v1h-5zM683 504h4v1h-4zM683 505h4v1h-4zM683 506h2v1h-2zM686 506h1v1h-1zM683 507h4v1h-4zM683 508h2v1h-2zM686 508h1v1h-1zM682 509h7v1h-7zM682 510h6v1h-6zM686 511h1v1h-1zM686 512h1v1h-1zM694 502h1v1h-1zM698 502h1v1h-1zM694 503h2v1h-2zM698 503h1v1h-1zM693 504h7v1h-7zM694 505h6v1h-6zM693 506h7v1h-7zM693 507h7v1h-7zM695 508h5v1h-5zM693 509h7v1h-7zM693 510h7v1h-7zM695 511h5v1h-5zM695 512h2v1h-2zM699 512h1v1h-1z"/>
<path fill="#ffffff" d="M672 517h2v1h-2zM672 518h2v1h-2zM671 519h7v1h-7zM672 520h4v1h-4zM677 520h1v1h-1zM672 521h4v1h-4zM677 521h1v1h-1zM672 522h4v1h-4zM677 522h1v1h-1zM672 523h1v1h-1zM674 523h2v1h-2zM677 523h1v1h-1zM672 524h1v1h-1zM674 524h2v1h-2zM677 524h1v1h-1zM672 525h1v1h-1zM674 525h4v1h-4zM671 526h7v1h-7zM671 527h1v1h-1zM673 527h1v1h-1zM682 517h2v1h-2zM685 517h3v1h-3zM682 518h4v1h-4zM687 518h1v1h-1zM684 519h4v1h-4zM682 520h6v1h-6zM682 521h7v1h-7zM682 522h7v1h-7zM682 523h7v1h-7zM683 524h2v1h-2zM686 524h2v1h-2zM684 525h1v1h-1zM686 525h2v1h-2zM683 526h6v1h-6zM683 527h3v1h-3zM688 527h1v1h-1zM694 517h1v1h-1zM694 518h1v1h-1zM696 518h3v1h-3zM693 519h4v1h-4zM694 520h5v1h-5zM694 521h5v1h-5zM694 522h5v1h-5zM694 523h5v1h-5zM693 524h2v1h-2zM696 524h3v1h-3zM693 525h6v1h-6zM694 526h6v1h-6zM694 527h3v1h-3z"/>
<path fill="#ffffff" d="M675 533h1v1h-1zM675 534h4v1h-4zM674 535h5v1h-5zM674 536h5v1h-5zM673 537h6v1h-6zM673 538h1v1h-1zM675 538h4v1h-4zM675 539h4v1h-4zM675 540h1v1h-1zM677 540h3v1h-3zM675 541h1v1h-1zM679 541h1v1h-1zM675 542h5v1h-5zM688 533h1v1h-1zM685 534h6v1h-6zM685 535h6v1h-6zM685 536h3v1h-3zM689 536h2v1h-2zM685 537h6v1h-6zM685 538h5v1h-5zM685 539h2v1h-2zM688 539h1v1h-1zM685 540h5v1h-5zM684 541h4v1h-4zM689 541h2v1h-2zM684 542h3v1h-3zM696 533h1v1h-1zM700 533h1v1h-1zM696 534h1v1h-1zM698 534h3v1h-3zM695 535h4v1h-4zM696 536h5v1h-5zM696 537h5v1h-5zM696 538h5v1h-5zM695 539h6v1h-6zM695 540h6v1h-6zM696 541h6v1h-6zM696 542h3v1h-3z"/>
<path fill="#ffffff" d="M673 549h1v1h-1zM673 550h1v1h-1zM675 550h4v1h-4zM673 551h5v1h-5zM672 552h6v1h-6zM672 553h2v1h-2zM675 553h1v1h-1zM677 553h1v1h-1zM672 554h6v1h-6zM673 555h5v1h-5zM673 556h3v1h-3zM677 556h1v1h-1zM673 557h5v1h-5zM672 558h6v1h-6zM672 559h1v1h-1zM675 559h4v1h-4zM683 549h7v1h-7zM684 550h5v1h-5zM684 551h4v1h-4zM684 552h4v1h-4zM684 553h2v1h-2zM687 553h1v1h-1zM684 554h4v1h-4zM684 555h2v1h-2zM687 555h1v1h-1zM683 556h7v1h-7zM683 557h6v1h-6zM687 558h1v1h-1zM687 559h1v1h-1zM695 549h1v1h-1zM699 549h1v1h-1zM695 550h2v1h-2zM699 550h1v1h-1zM694 551h7v1h-7zM695 552h6v1h-6zM694 553h7v1h-7zM694 554h7v1h-7zM696 555h5v1h-5zM694 556h7v1h-7zM694 557h7v1h-7zM696 558h5v1h-5zM696 559h2v1h-2zM700 559h1v1h-1z"/>
<path fill="#ffffff" d="M791 502h1v1h-1zM791 503h5v1h-5zM791 504h5v1h-5zM790 505h6v1h-6zM790 506h6v1h-6zM790 507h6v1h-6zM791 508h5v1h-5zM791 509h3v1h-3zM795 509h1v1h-1zM791 510h1v1h-1zM793 510h1v1h-1zM795 510h1v1h-1zM793 511h3v1h-3z"/>
<path fill="#ffffff" d="M793 548h1v1h-1zM793 549h5v1h-5zM793 550h5v1h-5zM792 551h6v1h-6zM792 552h6v1h-6zM792 553h6v1h-6zM793 554h5v1h-5zM793 555h3v1h-3zM797 555h1v1h-1zM793 556h1v1h-1zM795 556h1v1h-1zM797 556h1v1h-1zM795 557h3v1h-3z"/>
<path fill="#ffffff" d="M528 587h1v1h-1zM528 588h3v1h-3zM527 589h5v1h-5zM528 590h4v1h-4zM528 591h3v1h-3zM527 592h5v1h-5zM527 593h5v1h-5zM528 594h1v1h-1zM530 594h1v1h-1zM528 595h1v1h-1zM533 588h4v1h-4zM536 589h1v1h-1zM532 590h1v1h-1zM534 590h3v1h-3zM533 591h4v1h-4zM533 592h2v1h-2zM533 593h2v1h-2zM536 593h1v1h-1zM533 594h2v1h-2zM536 594h1v1h-1zM534 595h3v1h-3z"/>
<path fill="#ffffff" d="M546 588h1v1h-1zM549 588h1v1h-1zM546 589h4v1h-4zM546 590h4v1h-4zM545 591h6v1h-6zM545 592h3v1h-3zM546 593h2v1h-2zM546 594h4v1h-4zM545 595h1v1h-1zM548 595h3v1h-3zM551 587h4v1h-4zM551 588h4v1h-4zM551 589h6v1h-6zM551 590h5v1h-5zM551 591h5v1h-5zM551 592h3v1h-3zM555 592h1v1h-1zM552 593h2v1h-2zM555 593h1v1h-1zM552 594h5v1h-5zM551 595h1v1h-1zM553 595h2v1h-2zM556 595h1v1h-1z"/>
<path fill="#ffffff" d="M573 587h1v1h-1zM573 588h2v1h-2zM571 589h6v1h-6zM572 590h4v1h-4zM573 591h2v1h-2zM573 592h2v1h-2zM573 593h2v1h-2zM572 594h4v1h-4zM571 595h2v1h-2zM575 595h2v1h-2zM580 587h1v1h-1zM582 587h1v1h-1zM580 588h3v1h-3zM580 589h5v1h-5zM579 590h5v1h-5zM579 591h6v1h-6zM580 592h5v1h-5zM580 593h1v1h-1zM582 593h1v1h-1zM580 594h1v1h-1zM582 594h1v1h-1zM580 595h1v1h-1zM588 587h4v1h-4zM588 588h1v1h-1zM591 588h1v1h-1zM588 589h4v1h-4zM587 590h6v1h-6zM588 591h4v1h-4zM588 592h4v1h-4zM591 593h1v1h-1zM591 594h1v1h-1zM590 595h2v1h-2z"/>
<path fill="#ffffff" d="M610 587h1v1h-1zM612 587h1v1h-1zM610 588h5v1h-5zM609 589h5v1h-5zM609 590h5v1h-5zM610 591h4v1h-4zM609 592h6v1h-6zM609 593h5v1h-5zM610 594h3v1h-3zM609 595h6v1h-6zM619 587h1v1h-1zM617 588h6v1h-6zM617 589h6v1h-6zM618 590h4v1h-4zM620 591h1v1h-1zM617 592h6v1h-6zM620 593h1v1h-1zM619 594h2v1h-2zM619 595h1v1h-1z"/>
<path fill="#ffffff" d="M635 587h6v1h-6zM635 588h1v1h-1zM640 588h1v1h-1zM635 589h1v1h-1zM640 589h1v1h-1zM635 590h6v1h-6zM635 591h2v1h-2zM639 591h2v1h-2zM635 592h1v1h-1zM640 592h1v1h-1zM635 593h6v1h-6zM635 594h6v1h-6zM635 595h1v1h-1zM640 595h1v1h-1zM644 587h2v1h-2zM647 587h2v1h-2zM643 588h6v1h-6zM644 589h5v1h-5zM644 590h5v1h-5zM644 591h5v1h-5zM643 592h6v1h-6zM644 593h5v1h-5zM643 594h4v1h-4zM648 594h1v1h-1zM643 595h1v1h-1zM646 595h3v1h-3z"/>
<path fill="#ffffff" d="M536 600h1v1h-1zM534 601h6v1h-6zM534 602h6v1h-6zM534 603h6v1h-6zM535 604h4v1h-4zM535 605h4v1h-4zM535 606h4v1h-4zM535 607h4v1h-4zM537 608h1v1h-1zM537 609h1v1h-1zM544 600h1v1h-1zM546 600h1v1h-1zM544 601h1v1h-1zM546 601h2v1h-2zM543 602h6v1h-6zM544 603h1v1h-1zM546 603h2v1h-2zM544 604h4v1h-4zM544 605h5v1h-5zM543 606h2v1h-2zM546 606h2v1h-2zM543 607h5v1h-5zM544 608h1v1h-1zM546 608h3v1h-3zM544 609h2v1h-2zM548 609h1v1h-1z"/>
<path fill="#ffffff" d="M538 612h2v1h-2zM536 613h1v1h-1zM538 613h2v1h-2zM536 614h1v1h-1zM539 614h1v1h-1zM535 615h3v1h-3zM539 615h2v1h-2zM535 616h5v1h-5zM536 617h1v1h-1zM538 617h2v1h-2zM536 618h4v1h-4zM536 619h1v1h-1zM538 619h2v1h-2zM536 620h5v1h-5zM536 621h2v1h-2zM540 621h1v1h-1zM547 612h1v1h-1zM544 613h1v1h-1zM547 613h1v1h-1zM544 614h1v1h-1zM547 614h1v1h-1zM543 615h6v1h-6zM543 616h2v1h-2zM546 616h3v1h-3zM544 617h1v1h-1zM547 617h1v1h-1zM544 618h2v1h-2zM547 618h1v1h-1zM544 619h1v1h-1zM547 619h1v1h-1zM544 620h1v1h-1zM547 620h1v1h-1zM547 621h1v1h-1z"/>
<path fill="#ffffff" d="M536 625h1v1h-1zM538 625h1v1h-1zM536 626h1v1h-1zM538 626h2v1h-2zM535 627h6v1h-6zM536 628h1v1h-1zM538 628h2v1h-2zM536 629h5v1h-5zM536 630h4v1h-4zM535 631h2v1h-2zM538 631h2v1h-2zM535 632h2v1h-2zM538 632h2v1h-2zM536 633h5v1h-5zM536 634h2v1h-2zM540 634h1v1h-1zM544 625h1v1h-1zM546 625h1v1h-1zM544 626h1v1h-1zM546 626h2v1h-2zM543 627h6v1h-6zM544 628h1v1h-1zM546 628h2v1h-2zM544 629h4v1h-4zM544 630h5v1h-5zM543 631h2v1h-2zM546 631h2v1h-2zM543 632h5v1h-5zM544 633h1v1h-1zM546 633h3v1h-3zM544 634h2v1h-2zM548 634h1v1h-1z"/>
<path fill="#ffffff" d="M536 637h2v1h-2zM540 637h1v1h-1zM536 638h2v1h-2zM540 638h1v1h-1zM535 639h6v1h-6zM535 640h3v1h-3zM539 640h2v1h-2zM535 641h6v1h-6zM536 642h5v1h-5zM535 643h6v1h-6zM535 644h6v1h-6zM535 645h4v1h-4zM540 645h1v1h-1zM536 646h2v1h-2zM540 646h1v1h-1zM539 647h2v1h-2zM543 637h6v1h-6zM543 638h1v1h-1zM545 638h4v1h-4zM543 639h1v1h-1zM545 639h4v1h-4zM543 640h4v1h-4zM548 640h1v1h-1zM543 641h4v1h-4zM548 641h1v1h-1zM543 642h6v1h-6zM543 643h4v1h-4zM548 643h1v1h-1zM543 644h1v1h-1zM545 644h2v1h-2zM548 644h1v1h-1zM543 645h1v1h-1zM545 645h2v1h-2zM548 645h1v1h-1zM543 646h6v1h-6zM543 647h1v1h-1zM548 647h1v1h-1z"/>
<path fill="#ffffff" d="M697 578h1v1h-1zM697 579h2v1h-2zM697 580h1v1h-1zM697 581h1v1h-1zM697 582h8v1h-8zM696 583h2v1h-2zM703 583h2v1h-2zM696 584h1v1h-1zM703 584h2v1h-2zM696 585h5v1h-5zM703 585h2v1h-2zM695 586h7v1h-7zM703 586h2v1h-2zM695 587h3v1h-3zM700 587h2v1h-2zM703 587h2v1h-2zM694 588h2v1h-2zM697 588h1v1h-1zM701 588h1v1h-1zM703 588h2v1h-2zM694 589h2v1h-2zM697 589h1v1h-1zM701 589h1v1h-1zM703 589h2v1h-2zM694 590h1v1h-1zM697 590h1v1h-1zM701 590h1v1h-1zM703 590h2v1h-2zM697 591h5v1h-5zM703 591h2v1h-2zM697 592h5v1h-5zM703 592h2v1h-2zM697 593h1v1h-1zM703 593h2v1h-2zM697 594h1v1h-1zM702 594h2v1h-2zM697 595h1v1h-1zM702 595h2v1h-2zM705 595h1v1h-1zM697 596h1v1h-1zM705 596h1v1h-1zM697 597h1v1h-1zM705 597h1v1h-1zM697 598h1v1h-1zM705 598h1v1h-1zM697 599h9v1h-9zM697 600h8v1h-8z"/>
<path fill="#ffffff" d="M745 578h2v1h-2zM739 579h4v1h-4zM745 579h2v1h-2zM739 580h4v1h-4zM745 580h3v1h-3zM739 581h12v1h-12zM739 582h12v1h-12zM739 583h12v1h-12zM739 584h4v1h-4zM744 584h2v1h-2zM747 584h2v1h-2zM739 585h7v1h-7zM747 585h3v1h-3zM739 586h7v1h-7zM748 586h2v1h-2zM739 587h7v1h-7zM747 587h4v1h-4zM739 588h7v1h-7zM747 588h3v1h-3zM739 589h7v1h-7zM747 589h2v1h-2zM739 590h10v1h-10zM739 591h9v1h-9zM739 592h4v1h-4zM745 592h3v1h-3zM739 593h4v1h-4zM745 593h3v1h-3zM739 594h4v1h-4zM745 594h3v1h-3zM739 595h4v1h-4zM744 595h4v1h-4zM739 596h10v1h-10zM739 597h7v1h-7zM747 597h3v1h-3zM738 598h7v1h-7zM747 598h4v1h-4zM738 599h6v1h-6zM748 599h2v1h-2zM738 600h2v1h-2zM741 600h2v1h-2zM749 600h1v1h-1zM741 601h2v1h-2z"/>
<path fill="#ffffff" d="M803 594h1v1h-1zM805 594h1v1h-1zM803 595h1v1h-1zM805 595h1v1h-1zM802 596h5v1h-5zM803 597h1v1h-1zM805 597h1v1h-1zM803 598h1v1h-1zM805 598h1v1h-1zM801 599h7v1h-7zM801 600h7v1h-7zM802 601h2v1h-2zM805 601h2v1h-2zM802 602h1v1h-1zM806 602h1v1h-1zM801 603h1v1h-1z"/>
<path fill="#ffffff" d="M824 594h1v1h-1zM821 595h4v1h-4zM826 595h2v1h-2zM823 596h4v1h-4zM821 597h5v1h-5zM821 598h1v1h-1zM823 598h5v1h-5zM821 599h6v1h-6zM822 600h5v1h-5zM823 601h4v1h-4zM822 602h6v1h-6zM822 603h1v1h-1zM824 603h1v1h-1z"/>
<path fill="#ffffff" d="M856 594h3v1h-3zM854 595h5v1h-5zM853 596h7v1h-7zM854 597h5v1h-5zM854 598h5v1h-5zM854 599h5v1h-5zM854 600h5v1h-5zM854 601h5v1h-5zM854 602h5v1h-5zM853 603h7v1h-7zM862 594h5v1h-5zM862 595h5v1h-5zM862 596h5v1h-5zM861 597h7v1h-7zM862 598h5v1h-5zM862 599h5v1h-5zM862 600h5v1h-5zM862 601h5v1h-5zM862 602h5v1h-5zM861 603h7v1h-7z"/>
<path fill="#ffffff" d="M894 594h1v1h-1zM897 594h1v1h-1zM894 595h1v1h-1zM897 595h1v1h-1zM894 596h1v1h-1zM897 596h1v1h-1zM899 596h1v1h-1zM894 597h5v1h-5zM894 598h5v1h-5zM894 599h1v1h-1zM897 599h1v1h-1zM894 600h1v1h-1zM896 600h2v1h-2zM899 600h1v1h-1zM894 601h4v1h-4zM899 601h1v1h-1zM894 602h2v1h-2zM897 602h3v1h-3zM894 603h1v1h-1zM905 594h1v1h-1zM909 594h1v1h-1zM905 595h5v1h-5zM905 596h2v1h-2zM908 596h2v1h-2zM904 597h6v1h-6zM904 598h6v1h-6zM904 599h6v1h-6zM905 600h1v1h-1zM907 600h3v1h-3zM905 601h3v1h-3zM909 601h1v1h-1zM905 602h2v1h-2zM909 602h1v1h-1zM905 603h1v1h-1zM909 603h1v1h-1z"/>
<path fill="#ffffff" d="M769 624h1v1h-1zM771 624h1v1h-1zM769 625h3v1h-3zM768 626h4v1h-4zM768 627h6v1h-6zM768 628h6v1h-6zM767 629h3v1h-3zM771 629h1v1h-1zM767 630h3v1h-3zM771 630h1v1h-1zM768 631h6v1h-6zM768 632h6v1h-6zM768 633h1v1h-1zM771 633h1v1h-1zM768 634h1v1h-1zM771 634h1v1h-1zM768 635h1v1h-1zM771 635h1v1h-1zM768 636h1v1h-1zM771 636h1v1h-1zM768 637h1v1h-1zM771 637h1v1h-1z"/>
<path fill="#ffffff" d="M784 625h1v1h-1zM784 626h1v1h-1zM784 627h1v1h-1zM783 628h1v1h-1zM786 628h1v1h-1zM783 629h1v1h-1zM786 629h1v1h-1zM782 630h6v1h-6zM782 631h6v1h-6zM783 632h5v1h-5zM782 633h5v1h-5zM782 634h2v1h-2zM786 634h1v1h-1zM782 635h2v1h-2zM786 635h1v1h-1zM782 636h5v1h-5zM782 637h5v1h-5zM783 638h1v1h-1zM786 638h1v1h-1z"/>
<path stroke="#ffffff" stroke-width="1" fill="none" d="M6 5.5H932M6 659.5H932M6.5 5V660M931.5 5V660M219 161.5H405M417 161.5H626M233 323.5H405M417 323.5H612M220.3 161.5L224.5 212.5M234 161.5L237.5 212.5M230 271.5L233.5 323.5M242.6 271.5L246.7 323.5M611.6 161.5L607.5 213.5M625.5 161.5L620.3 213.5M602.8 271.5L598.3 323.5M614.3 271.5L611.7 323.5M237.5 212.5Q252 242 242.6 271.5M607.5 213.5Q594 241.5 602.8 271.5M231.5 212V272M613.5 213V272M180 168.5H221M180 212.5H225M180 271.5H231M180 315.5H234M180.5 168V316M158 180.5H181M158.5 180V206M154 205.5H172M158 304.5H181M158.5 279V305M154 279.5H172M171 198.5H181M171 286.5H181M171.5 198V287M154.5 205V280M108 213.5H155M108 271.5H155M108.5 213V272M625 169.5H665M620 213.5H665M614 271.5H665M611 315.5H665M664.5 169V316M664 180.5H687M686.5 180V206M664 304.5H687M686.5 279V305M664 198.5H674M664 286.5H674M673.5 198V287M673 205.5H691M673 279.5H691M690.5 205V280M690 213.5H737M690 271.5H737M736.5 213V272M736 218.5H849M736 266.5H849M792 222.5H845M844.5 218V223M110 208.5H125M877 52.5H897M877.9 52.8L886.5 68.6L906.6 35.1M412.5 104.8L412.5 120M412.5 347L412.5 364M699 250.5L714 250.5"/>
<path stroke="#00ff00" stroke-width="1" fill="none" d="M61 16.5H921M61 648.5H921M61.5 16V649M920.5 16V649M741.5 218V223M523 498.5H921M523.5 498V649M523 560.5H921"/>
<path stroke="#ff00ff" stroke-width="1" fill="none" d="M790.3 218.6L793.8 221.77L797.23 224.62L800.59 227.13L803.89 229.32L807.12 231.17L810.29 232.7L813.39 233.9L816.43 234.76L819.4 235.3L822.3 235.5L825.14 235.38L827.91 234.92L830.61 234.14L833.25 233.02L835.83 231.57L838.33 229.8L840.77 227.69L843.15 225.26L845.46 222.5L847.7 219.4M108 93.5H849M108.5 91V214M848.5 91V267M219 120.5H626M219.5 118V162M625.5 118V162M233 364.5H612M233.5 323V367M611.5 323V367M180 391.5H665M180.5 315V394M664.5 312V394M154 412.5H691M154.5 279V415M690.5 279V415M525.5 161V324M731.5 169V317M664 169.5H734M664 316.5H734M117.5 197V208M794 172.5H849M794 194.5H849M794.5 172V195M848.5 172V195M813.5 172V195M834.5 172V195M772 182.5H795M772.5 182V215"/>
<path stroke="#0000ff" stroke-width="1" fill="none" d="M405.5 139V191M405.5 197V205M405.5 211V219M405.5 225V260M405.5 266V274M405.5 280V288M405.5 294V348M416.5 138V191M416.5 197V205M416.5 211V219M416.5 225V260M416.5 266V274M416.5 280V288M416.5 294V348"/>
<path stroke="#ff0000" stroke-width="1" fill="none" d="M714.5 180V305M683 180.5H719M683 304.5H719"/>
<path stroke="#00ffff" stroke-width="1" fill="none" d="M124.5 262.2L171.3 448.5M171 448.5H182M437.5 298.9L522.5 448.5M522 448.5H532M635.7 306.2L689.7 448.5M689 448.5H700M748.7 256.6L813.2 447.5M813 447.5H823M235.2 267.5L253.6 258.6M256 257.5H276M269.5 249L269.5 257.5L274.5 257.5ZM592.7 229.9L609.6 216.8M563 231.5H588M566.5 223.2L566.5 231.5L571 231.5ZM628.5 164.8L646.6 155.7M651 154.5H670M662.6 146.7L662.6 154.5L668.6 154.5ZM672.1 174.4L686 166.9M690 166.5H709M701.9 157.9L701.9 166.5L707.8 166.5Z"/>
<path stroke="#ffff00" stroke-width="1" fill="none" d="M524 513.5H920M524 529.5H920M524 544.5H920M541.5 499V560M629.5 499V560M726.5 499V560M744.5 499V560M827.5 499V560M852.5 499V560M876.5 499V560M541.5 561V598M629.5 561V598M561.5 561V648M603.5 561V648M656.5 561V648M788.5 561V648M524 572.5H657M524 585.5H657M524 597.5H657M524 610.5H657M524 623.5H657M524 635.5H657M656 615.5H920M788 590.5H920M788 604.5H920M840.5 590V616M883.5 590V616"/>
<polygon shape-rendering="geometricPrecision" points="171.6,181.1 181.4,171.3 181.4,181.1" fill="#ff00ff"/>
<polygon shape-rendering="geometricPrecision" points="213.08,168.87 220.16,161.67 220.16,168.87" fill="#ff00ff"/>
<polygon shape-rendering="geometricPrecision" points="230.93,212.14 238.24,212.14 230.93,219.22" fill="#ff00ff"/>
<polygon shape-rendering="geometricPrecision" points="230.84,264.11 230.84,271.9 237.92,271.9" fill="#ff00ff"/>
<polygon shape-rendering="geometricPrecision" points="224.13,315.1 233.69,315.1 233.69,323" fill="#ff00ff"/>
<polygon shape-rendering="geometricPrecision" points="171.62,304.03 181.29,304.03 181.29,313.24" fill="#ff00ff"/>
<polygon shape-rendering="geometricPrecision" points="625.38,161.58 625.38,169.61 631.75,169.61" fill="#ff00ff"/>
<polygon shape-rendering="geometricPrecision" points="663.96,172.1 663.96,180.95 672.69,180.95" fill="#ff00ff"/>
<polygon shape-rendering="geometricPrecision" points="606.77,213.13 613.97,213.13 613.97,220.44" fill="#ff00ff"/>
<polygon shape-rendering="geometricPrecision" points="606.43,271.84 613.98,271.84 613.98,265.23" fill="#ff00ff"/>
<polygon shape-rendering="geometricPrecision" points="611.24,315.07 620.32,315.07 611.24,323.56" fill="#ff00ff"/>
<polygon shape-rendering="geometricPrecision" points="664.28,304.06 672.54,304.06 664.28,312.68" fill="#ff00ff"/></svg></body></html>
